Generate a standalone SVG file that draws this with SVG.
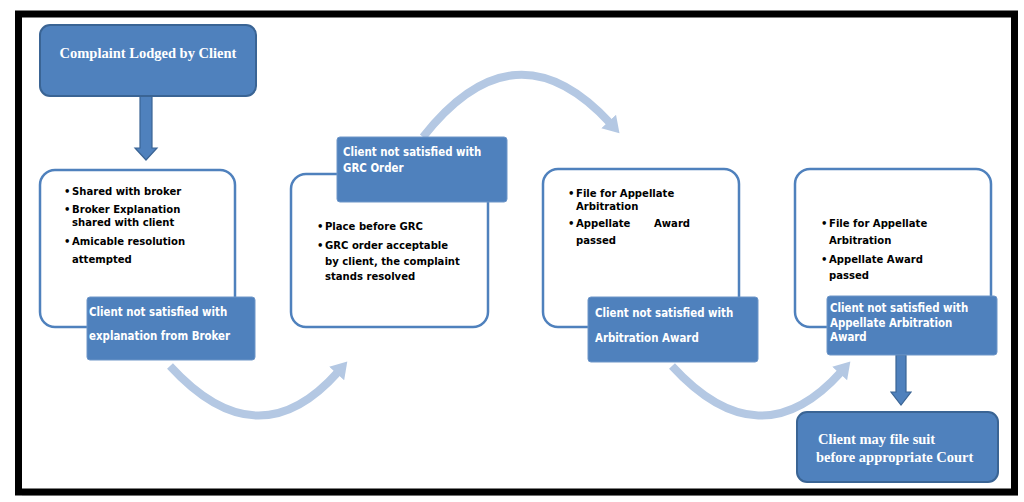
<svg xmlns="http://www.w3.org/2000/svg" width="1024" height="502" viewBox="0 0 1024 502">
  <defs>
    <style>
      .solid { fill: #4F81BD; stroke: #3A6494; stroke-width: 2; }
      .tag { fill: #4F81BD; stroke: #6E96C8; stroke-width: 1; }
      .outline { fill: #FFFFFF; stroke: #4F81BD; stroke-width: 2.5; }
      .serif { font-family: "Liberation Serif", "Times New Roman", serif; font-weight: bold; font-size: 14.5px; fill: #FFFFFF; }
      .body { font-family: "DejaVu Sans Condensed", "DejaVu Sans", sans-serif; font-weight: bold; font-size: 11.2px; fill: #000000; }
      .tagtxt { font-family: "DejaVu Sans Condensed", "DejaVu Sans", sans-serif; font-weight: bold; font-size: 11.4px; fill: #FFFFFF; }
      .arc { fill: none; stroke: #B4C8E3; stroke-width: 8; }
      .dn { fill: #4F81BD; stroke: #3A6494; stroke-width: 1.2; }
    </style>
    <marker id="ah" markerUnits="userSpaceOnUse" markerWidth="24" markerHeight="24" refX="2" refY="12" orient="auto">
      <path d="M0,2 L16,12 L0,22 Z" fill="#B4C8E3"/>
    </marker>
  </defs>

  <!-- frame -->
  <rect x="22" y="18" width="996" height="478" fill="#C8C8C8" opacity="0.6"/>
  <rect x="18.5" y="14" width="996" height="478" fill="#FFFFFF" stroke="#000000" stroke-width="7"/>

  <!-- connectors -->
  <g id="connectors">
    <path class="arc" d="M170,366 Q258,462 338,372" marker-end="url(#ah)"/>
    <path class="arc" d="M423,137 Q515,20 610,123" marker-end="url(#ah)"/>
    <path class="arc" d="M672,366 Q760,462 841,372" marker-end="url(#ah)"/>
    <path class="dn" d="M140,96 L152,96 L152,148 L157,148 L146,160 L135,148 L140,148 Z"/>
    <path class="dn" d="M896,355 L906,355 L906,392 L911,392 L901,405 L891,392 L896,392 Z"/>
  </g>

  <!-- top node -->
  <g id="n-complaint">
    <rect class="solid" x="40" y="25" width="216" height="71" rx="10"/>
    <text class="serif" x="148" y="58" text-anchor="middle">Complaint Lodged by Client</text>
  </g>

  <!-- box 1 -->
  <g id="n-broker">
    <rect class="outline" x="40" y="170" width="195" height="157" rx="15"/>
    <text class="body" x="64" y="195">•</text><text class="body" x="72" y="195">Shared with broker</text>
    <text class="body" x="64" y="213">•</text><text class="body" x="72" y="213">Broker Explanation</text>
    <text class="body" x="72" y="226">shared with client</text>
    <text class="body" x="64" y="245">•</text><text class="body" x="72" y="245">Amicable resolution</text>
    <text class="body" x="72" y="263">attempted</text>
  </g>
  <g id="n-notsat1">
    <rect class="tag" x="87" y="297" width="168" height="63" rx="3"/>
    <text class="tagtxt" x="89" y="316">Client not satisfied with</text>
    <text class="tagtxt" x="89" y="340">explanation from Broker</text>
  </g>

  <!-- box 2 -->
  <g id="n-grc">
    <rect class="outline" x="291" y="174" width="197" height="153" rx="15"/>
    <text class="body" x="317" y="230">•</text><text class="body" x="325" y="230">Place before GRC</text>
    <text class="body" x="317" y="249">•</text><text class="body" x="325" y="249">GRC order acceptable</text>
    <text class="body" x="325" y="265">by client, the complaint</text>
    <text class="body" x="325" y="280">stands resolved</text>
  </g>
  <g id="n-notsat2">
    <rect class="tag" x="337" y="137" width="170" height="65" rx="3"/>
    <text class="tagtxt" x="343" y="156">Client not satisfied with</text>
    <text class="tagtxt" x="343" y="172">GRC Order</text>
  </g>

  <!-- box 3 -->
  <g id="n-arbitration">
    <rect class="outline" x="543" y="169" width="196" height="158" rx="15"/>
    <text class="body" x="568" y="197">•</text><text class="body" x="576" y="197">File for Appellate</text>
    <text class="body" x="576" y="210">Arbitration</text>
    <text class="body" x="568" y="227">•</text><text class="body" x="576" y="227">Appellate</text><text class="body" x="654" y="227">Award</text>
    <text class="body" x="576" y="244">passed</text>
  </g>
  <g id="n-notsat3">
    <rect class="tag" x="588" y="297" width="170" height="65" rx="3"/>
    <text class="tagtxt" x="595" y="317">Client not satisfied with</text>
    <text class="tagtxt" x="595" y="342">Arbitration Award</text>
  </g>

  <!-- box 4 -->
  <g id="n-appellate">
    <rect class="outline" x="795" y="169" width="196" height="158" rx="15"/>
    <text class="body" x="821" y="227">•</text><text class="body" x="829" y="227">File for Appellate</text>
    <text class="body" x="829" y="244">Arbitration</text>
    <text class="body" x="821" y="263">•</text><text class="body" x="829" y="263">Appellate Award</text>
    <text class="body" x="829" y="279">passed</text>
  </g>
  <g id="n-notsat4">
    <rect class="tag" x="827" y="296" width="170" height="59" rx="3"/>
    <text class="tagtxt" x="830" y="312">Client not satisfied with</text>
    <text class="tagtxt" x="830" y="327">Appellate Arbitration</text>
    <text class="tagtxt" x="830" y="341">Award</text>
  </g>

  <!-- court -->
  <g id="n-court">
    <rect class="solid" x="797" y="412" width="201" height="70" rx="10"/>
    <text class="serif" x="818" y="444">Client may file suit</text>
    <text class="serif" x="816" y="462">before appropriate  Court</text>
  </g>
</svg>
